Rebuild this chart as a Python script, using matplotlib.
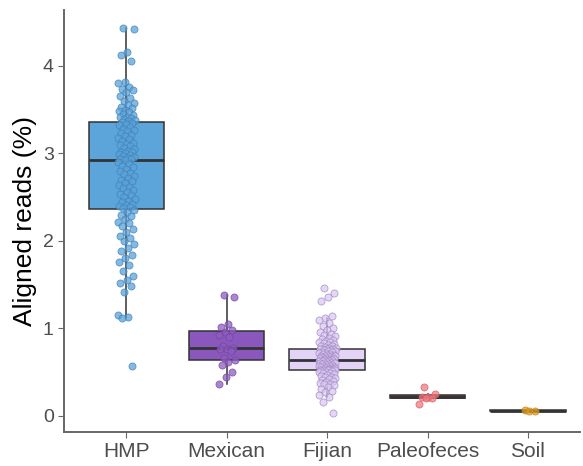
import numpy as np
import matplotlib
matplotlib.use("Agg")
import matplotlib.pyplot as plt

plt.rcParams["font.family"] = ["Liberation Sans", "DejaVu Sans"]

# groups and their colours
groups = ["HMP", "Mexican", "Fijian", "Paleofeces", "Soil"]
box_colors = ["#5ca5db", "#8a58bd", "#e3d3f6", "#9a3d42", "#b8860b"]
pt_colors = ["#5aa3da", "#8f5cc2", "#dccaf2", "#f07a80", "#e3a020"]
pt_edges = ["#3f7fb3", "#6e449b", "#9d85c0", "#d05a60", "#c07f10"]

# aligned reads (%)
hmp = [4.43, 4.42, 4.16, 4.12, 4.05, 3.82, 3.80, 3.76, 3.74, 3.72, 3.70, 3.66, 3.63, 3.60,
       3.58, 3.55, 3.53, 3.52, 3.50, 3.48, 3.47, 3.45, 3.44, 3.42, 3.41, 3.40, 3.39, 3.38,
       3.37, 3.36,
       3.35, 3.33, 3.32, 3.30, 3.28, 3.27, 3.25, 3.23, 3.21, 3.20, 3.18, 3.16, 3.14, 3.12,
       3.11, 3.09, 3.08, 3.06, 3.05, 3.03, 3.02, 3.01, 3.00, 2.99, 2.98, 2.97, 2.96, 2.95,
       2.94, 2.93,
       2.92, 2.90, 2.88, 2.86, 2.84, 2.82, 2.80, 2.78, 2.76, 2.74, 2.72, 2.70, 2.68, 2.66,
       2.64, 2.62, 2.60, 2.58, 2.56, 2.54, 2.52, 2.50, 2.48, 2.46, 2.44, 2.42, 2.41, 2.40,
       2.39, 2.37,
       2.35, 2.33, 2.30, 2.28, 2.25, 2.22, 2.20, 2.17, 2.14, 2.10, 2.06, 2.03, 2.00, 1.96,
       1.92, 1.88, 1.84, 1.80, 1.76, 1.72, 1.66, 1.60, 1.55, 1.52, 1.48, 1.42, 1.15, 1.13,
       1.12, 0.57]
mexican = [1.38, 1.36, 1.05, 1.02, 0.98, 0.96, 0.92, 0.90, 0.80, 0.78, 0.77, 0.76, 0.74,
           0.66, 0.64, 0.62, 0.58, 0.50, 0.44, 0.36]
fijian = [1.46, 1.41, 1.36, 1.31, 1.14, 1.12, 1.10, 1.06, 1.03, 1.00, 0.98, 0.96, 0.94, 0.92,
          0.91, 0.89, 0.88, 0.87, 0.86, 0.85, 0.84, 0.83, 0.82, 0.81, 0.80, 0.80, 0.79, 0.78,
          0.78, 0.77,
          0.77, 0.76, 0.76, 0.75, 0.75, 0.74, 0.74, 0.73, 0.73, 0.72, 0.72, 0.71, 0.71, 0.70,
          0.70, 0.69, 0.69, 0.68, 0.68, 0.67, 0.67, 0.66, 0.66, 0.66, 0.65, 0.65, 0.65, 0.64,
          0.64, 0.64,
          0.64, 0.63, 0.63, 0.63, 0.62, 0.62, 0.61, 0.61, 0.60, 0.60, 0.59, 0.59, 0.58, 0.58,
          0.57, 0.57, 0.57, 0.56, 0.56, 0.56, 0.55, 0.55, 0.55, 0.54, 0.54, 0.54, 0.53, 0.53,
          0.53, 0.53,
          0.52, 0.52, 0.51, 0.51, 0.50, 0.50, 0.49, 0.49, 0.48, 0.47, 0.46, 0.45, 0.44, 0.43,
          0.42, 0.41, 0.40, 0.39, 0.38, 0.37, 0.36, 0.35, 0.33, 0.31, 0.29, 0.27, 0.24, 0.22,
          0.16, 0.03]
paleofeces = [0.33, 0.25, 0.22, 0.22, 0.21, 0.20, 0.14]
soil = [0.07, 0.06, 0.06]

data = [hmp, mexican, fijian, paleofeces, soil]

fig = plt.figure(figsize=(5.83, 4.66), dpi=100)
ax = fig.add_axes([0.11, 0.073, 0.885, 0.906])

pos = np.arange(len(groups))
bp = ax.boxplot(data, positions=pos, widths=0.75, patch_artist=True, showfliers=False,
                showcaps=False,
                medianprops=dict(color="#333333", linewidth=2),
                whiskerprops=dict(color="#333333", linewidth=1.1),
                boxprops=dict(edgecolor="#333333", linewidth=1.1))
for patch, c in zip(bp["boxes"], box_colors):
    patch.set_facecolor(c)

# jittered points on top of the boxes
for i, vals in enumerate(data):
    k = np.arange(len(vals))
    dx = ((k * 0.618034 + 0.31) % 1 - 0.5) * 0.17
    ax.scatter(i + dx, vals, s=26, color=pt_colors[i], edgecolors=pt_edges[i],
               linewidths=0.6, alpha=0.75, zorder=3)

ax.set_xlim(-0.62, 4.52)
ax.set_ylim(-0.183, 4.64)
ax.set_xticks(pos)
ax.set_xticklabels(groups, fontsize=15)
ax.set_yticks([0, 1, 2, 3, 4])
ax.set_ylabel("Aligned reads (%)", fontsize=19, color="black", labelpad=4)
ax.tick_params(axis="y", labelsize=14)
ax.tick_params(axis="both", colors="#666666", labelcolor="#4d4d4d", length=4, width=0.8)
for s in ["top", "right"]:
    ax.spines[s].set_visible(False)
for s in ["left", "bottom"]:
    ax.spines[s].set_color("#666666")
    ax.spines[s].set_linewidth(1.4)

fig.savefig("out.png", dpi=100)
